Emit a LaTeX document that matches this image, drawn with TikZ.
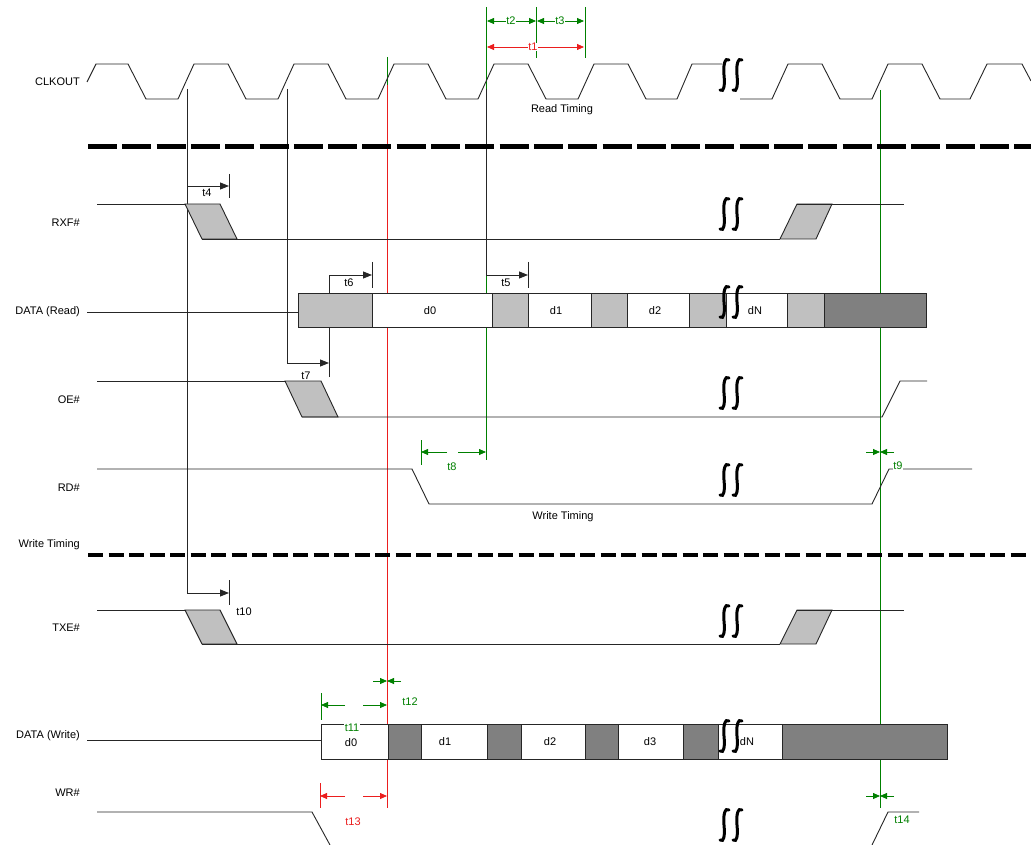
\documentclass[tikz,border=0pt]{standalone}
\usepackage{fontspec}
\setmainfont{Liberation Sans}
\usetikzlibrary{arrows.meta}
\definecolor{tgreen}{RGB}{0,128,0}
\definecolor{tred}{RGB}{235,30,30}
\definecolor{lgray}{RGB}{192,192,192}
\definecolor{dgray}{RGB}{128,128,128}
\tikzset{
  sig/.style={line width=0.9pt, draw=black!85},
  brkline/.style={line width=3pt, line cap=round},
  signame/.style={anchor=east, inner sep=0pt},
  tlbl/.style={inner sep=0.6pt},
  barr/.style={sig, -{Triangle[length=9pt,width=7pt]}},
  garr/.style={draw=tgreen, line width=0.8pt, -{Triangle[length=7pt,width=6pt]}},
  rarr/.style={draw=tred, line width=0.8pt, -{Triangle[length=7pt,width=6pt]}},
  redline/.style={draw=tred, line width=1.1pt}
}
\newcommand{\wavebreak}[2]{%
  \foreach \dx in {0,13} {\draw[brkline] (#1+\dx+4,#2-15) .. controls (#1+\dx,#2-18) and (#1+\dx-2,#2-10) .. (#1+\dx-1,#2)
    .. controls (#1+\dx,#2+10) and (#1+\dx-1,#2+18) .. (#1+\dx-5,#2+15);}}
\begin{document}
\begin{tikzpicture}[x=1pt,y=-1pt,font=\fontsize{11}{13}\selectfont]
    \useasboundingbox[fill=white] (0,0) rectangle (1031,845);
    % vertical reference lines (behind everything)
    \draw[tgreen, line width=0.8pt] (486.5,7) -- (486.5,460);
    \draw[tgreen, line width=0.8pt] (880.5,90) -- (880.5,808);
    \draw[tgreen, line width=1pt] (387.5,57) -- (387.5,85);
    \draw[redline] (387.5,85) -- (387.5,808);
    \draw[barr] (187,89) |- (229,593);
    \draw[barr] (187,186) -- (229,186);
    \draw[barr] (287,89) |- (329,363);
    \draw[barr] (329,377) |- (372,275);
    \draw[barr] (486,89) |- (528,275);
    \draw[sig] (229,174) -- (229,198);
    \draw[sig] (229,580) -- (229,605);
    \draw[sig] (372,262) -- (372,288);
    \draw[sig] (528,262) -- (528,288);
    % separators
    \draw[line width=5pt, dash pattern=on 29pt off 5.3pt] (88,147) -- (1031,147);
    \draw[line width=4pt, dash pattern=on 15pt off 5.5pt] (88,555) -- (1031,555);
    % CLKOUT
    \draw[sig] (87,82) -- (96,64) -- (128,64) -- (146,99)
      \foreach \k in {0,...,4} { -- (178+100*\k,99) -- (194+100*\k,64) -- (228+100*\k,64) -- (246+100*\k,99) }
      -- (677,99) -- (692,64) -- (722,64);
    \draw[sig] (740,99)
      \foreach \k in {0,1} { -- (772+100*\k,99) -- (788+100*\k,64) -- (822+100*\k,64) -- (840+100*\k,99) }
      -- (970,99) -- (987,64) -- (1022,64) -- (1031,81);
    % RXF#
    \draw[sig] (97,204) -- (185,204);
    \filldraw[sig, fill=lgray] (185,204) -- (220,204) -- (237,239) -- (202,239) -- cycle;
    \draw[sig] (202,239) -- (780,239);
    \filldraw[sig, fill=lgray] (780,239) -- (816,239) -- (832,204) -- (797,204) -- cycle;
    \draw[sig] (797,204) -- (904,204);
    % DATA (Read)
    \draw[sig] (87,312) -- (298,312);
    \foreach \a/\b/\c in {298/372/lgray, 372/492/white, 492/528/lgray, 528/591/white, 591/627/lgray,
      627/689/white, 689/726/lgray, 726/787/white, 787/824/lgray, 824/926/dgray}
      \filldraw[sig, fill=\c] (\a,293) rectangle (\b,327);
    \node (rd0) at (430,311) {d0};
    \node (rd1) at (556,311) {d1};
    \node (rd2) at (655,311) {d2};
    \node (rdn) at (755,311) {dN};
    % OE#
    \draw[sig] (97,381) -- (285,381);
    \filldraw[sig, fill=lgray] (285,381) -- (321,381) -- (338,417) -- (302,417) -- cycle;
    \draw[sig] (302,417) -- (882,417) -- (900,381) -- (927,381);
    % RD#
    \draw[sig] (97,469) -- (412,469) -- (429,504) -- (872,504) -- (889,469) -- (972,469);
    % TXE#
    \draw[sig] (97,610) -- (185,610);
    \filldraw[sig, fill=lgray] (185,610) -- (220,610) -- (237,644) -- (202,644) -- cycle;
    \draw[sig] (202,644) -- (780,644);
    \filldraw[sig, fill=lgray] (780,644) -- (816,644) -- (832,610) -- (797,610) -- cycle;
    \draw[sig] (797,610) -- (904,610);
    % DATA (Write)
    \draw[sig] (87,740) -- (321,740);
    \foreach \a/\b/\c in {321/388/white, 388/421/dgray, 421/487/white, 487/521/dgray, 521/585/white,
      585/618/dgray, 618/683/white, 683/718/dgray, 718/782/white, 782/947/dgray}
      \filldraw[sig, fill=\c] (\a,724.5) rectangle (\b,759);
    \node (wd0) at (351,743) {d0};
    \node (wd1) at (445,742) {d1};
    \node (wd2) at (550,742) {d2};
    \node (wd3) at (650,742) {d3};
    \node (wdn) at (747,742) {dN};
    % WR#
    \draw[sig] (97,812) -- (312,812) -- (330,845);
    \draw[sig] (872,845) -- (888,812) -- (919,812);
    % breaks
    \wavebreak{725}{75}
    \wavebreak{725}{214}
    \wavebreak{725}{302}
    \wavebreak{725}{393}
    \wavebreak{725}{480}
    \wavebreak{725}{621}
    \wavebreak{725}{736}
    \wavebreak{725}{825}
    % timing marks
    \draw[tgreen, line width=0.8pt] (536,7) -- (536,58);
    \draw[tgreen, line width=0.8pt] (585,7) -- (585,58);
    \draw[garr, {Triangle[length=7pt,width=6pt]}-{Triangle[length=7pt,width=6pt]}] (487,21) -- (536,21);
    \draw[garr, {Triangle[length=7pt,width=6pt]}-{Triangle[length=7pt,width=6pt]}] (537,21) -- (584,21);
    \draw[rarr, {Triangle[length=7pt,width=6pt]}-{Triangle[length=7pt,width=6pt]}] (487,47) -- (584,47);
    \node[tlbl, fill=white, text=tgreen] (t2) at (511,21) {t2};
    \node[tlbl, fill=white, text=tgreen] (t3) at (560,21) {t3};
    \node[tlbl, fill=white, text=tred] (t1) at (533,47) {t1};
    \node[tlbl, fill=white] (t4) at (207,193) {t4};
    \node[tlbl, fill=white] (t5) at (506,283) {t5};
    \node[tlbl, fill=white] (t6) at (349,283) {t6};
    \node[tlbl, fill=white] (t7) at (306,376) {t7};
    \node[tlbl] (t10) at (244,612) {t10};
    % t8
    \draw[tgreen, line width=0.8pt] (421,440) -- (421,465);
    \draw[garr] (447,452) -- (421,452);
    \draw[garr] (458,452) -- (486,452);
    \node[tlbl, text=tgreen] (t8) at (452,467) {t8};
    % t9
    \draw[garr] (866,452) -- (880,452);
    \draw[garr] (894,452) -- (880,452);
    \node[tlbl, fill=white, text=tgreen] (t9) at (898,466) {t9};
    % t11, t12
    \draw[tgreen, line width=0.8pt] (321,693) -- (321,720);
    \draw[garr] (345,705) -- (321,705);
    \draw[garr] (363,705) -- (387,705);
    \node[tlbl, fill=white, text=tgreen] (t11) at (352,728) {t11};
    \draw[garr] (373,681) -- (387,681);
    \draw[garr] (401,681) -- (387,681);
    \node[tlbl, text=tgreen] (t12) at (410,702) {t12};
    % t13
    \draw[tred, line width=0.8pt] (320,783) -- (320,808);
    \draw[rarr] (345,796) -- (320,796);
    \draw[rarr] (363,796) -- (387,796);
    \node[tlbl, text=tred] (t13) at (353,822) {t13};
    % t14
    \draw[garr] (866,796) -- (880,796);
    \draw[garr] (894,796) -- (880,796);
    \node[tlbl, fill=white, text=tgreen] (t14) at (902,820) {t14};
    % signal names
    \node[signame] (clkout) at (80,82) {CLKOUT};
    \node[signame] (rxf) at (80,223) {RXF\#};
    \node[signame] (dataread) at (80,312) {DATA (Read)};
    \node[signame] (oe) at (80,400) {OE\#};
    \node[signame] (rd) at (80,488) {RD\#};
    \node[signame] (wtiming) at (80,545) {Write Timing};
    \node[signame] (txe) at (80,628) {TXE\#};
    \node[signame] (datawrite) at (80,736) {DATA (Write)};
    \node[signame] (wr) at (80,793) {WR\#};
    \node (readtiming) at (562,110) {Read Timing};
    \node (writetiming) at (563,517) {Write Timing};
\end{tikzpicture}
\end{document}
